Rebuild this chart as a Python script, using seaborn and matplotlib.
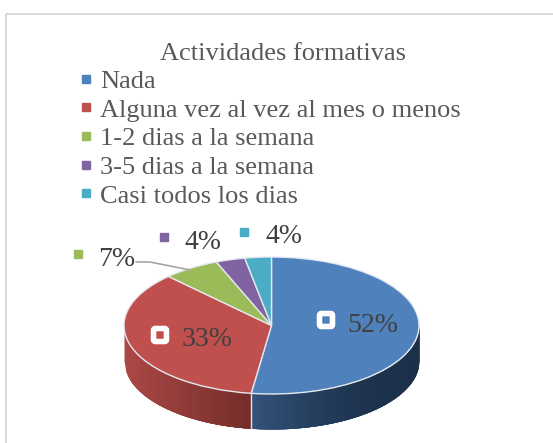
import numpy as np
import matplotlib
matplotlib.use("Agg")
import matplotlib.pyplot as plt
from matplotlib.transforms import Affine2D
from matplotlib.patches import FancyBboxPatch, Rectangle
import seaborn as sns

title = "Actividades formativas"
categories = ["Nada", "Alguna vez al vez al mes o menos", "1-2 dias a la semana",
              "3-5 dias a la semana", "Casi todos los dias"]
# slice sizes as they look in the tilted pie, labels as printed
shares = [52.2, 35.5, 6.2, 3.2, 2.9]
pct_labels = ["52%", "33%", "7%", "4%", "4%"]
colors = ["#4f81bd", "#c0504d", "#9bbb59", "#8064a2", "#4bacc6"]

W, H = 553, 443
CX, CY, RX, RY, DEPTH = 271.5, 325.5, 147.5, 68.5, 35

sns.set_theme(style="white")
plt.rcParams["font.family"] = ["Liberation Serif", "DejaVu Serif"]

fig = plt.figure(figsize=(W / 100, H / 100), dpi=100, facecolor="white")
ax = fig.add_axes([0, 0, 1, 1])

# pixel coordinates for text and furniture
px = Affine2D().scale(1 / W, -1 / H).translate(0, 1) + fig.transFigure

palette = sns.color_palette(colors)
wedges, _ = ax.pie(shares, colors=palette, startangle=90, counterclock=False, radius=1,
                   wedgeprops=dict(edgecolor="#e4e8ee", linewidth=1.0, zorder=5))
ax.set_aspect("auto")
ax.set_xlim((0 - CX) / RX, (W - CX) / RX)
ax.set_ylim((CY - H) / RY, CY / RY)

# side wall of the pie, shaded by column
end_blue = np.deg2rad(90 - shares[0] * 3.6)
split_x = np.cos(end_blue)
depth = DEPTH / RY
n = 70
red_side = sns.blend_palette(["#ab4846", "#8f3a38", "#752d2a"], n)
blue_side = sns.blend_palette(["#34527b", "#26405f", "#1d334e", "#1c3049"], n)
for side, cols, a, b in [("red", red_side, -1, split_x), ("blue", blue_side, split_x, 1)]:
    edges = np.linspace(a, b, n + 1)
    for i in range(n):
        # each column runs on under the next one so no seams show
        xs = np.linspace(edges[i], min(edges[i] + 0.06, b), 6)
        low = -np.sqrt(np.clip(1 - xs ** 2, 0, 1))
        ax.fill_between(xs, low, low - depth, color=cols[i], linewidth=0, zorder=3)
ax.plot([split_x, split_x], [-np.sqrt(1 - split_x ** 2), -np.sqrt(1 - split_x ** 2) - depth],
        color="#dfe4ea", lw=1, zorder=4)

# chart frame
ax.add_patch(Rectangle((5.5, 13.5), 560, 440, transform=px, fill=False, edgecolor="#d9d9d9",
                       lw=1.5, clip_on=True, zorder=1))

ax.text(283, 54, title, transform=px, ha="center", va="center", fontsize=19, color="#595959")

# legend
handles = [plt.Line2D([], [], ls="", marker="s", ms=5.6, color=c) for c in palette]
fig.legend(handles, categories, loc="upper left", bbox_to_anchor=(73 / W, 1 - 69.5 / H),
           frameon=False, fontsize=19, labelcolor="#595959", handletextpad=0.0,
           handlelength=1.02, labelspacing=0.197, borderpad=0, borderaxespad=0)

# percentage labels with their keys
label_pos = [(373, 326), (207, 340), (117, 260), (203, 243), (284, 237)]
key_pos = [(326, 320), (160, 335), (78, 254), (164, 237), (244, 232)]
for i, (lab, (x, y), (kx, ky)) in enumerate(zip(pct_labels, label_pos, key_pos)):
    ax.text(x, y, lab, transform=px, ha="center", va="center", fontsize=20, color="#404040", zorder=8)
    if i < 2:
        ax.add_patch(FancyBboxPatch((kx - 6.5, ky - 6.5), 13, 13, boxstyle="round,pad=0,rounding_size=2",
                                    transform=px, facecolor=palette[i], edgecolor="white", lw=4, zorder=7))
    else:
        ax.plot([kx], [ky], "s", ms=6, color=palette[i], transform=px, zorder=7)

# leader line of the 7% label
ax.plot([136, 150, 190], [262, 262, 270], color="#a6a6a6", lw=1.2, transform=px, zorder=6)

fig.savefig("out.png", dpi=100)
